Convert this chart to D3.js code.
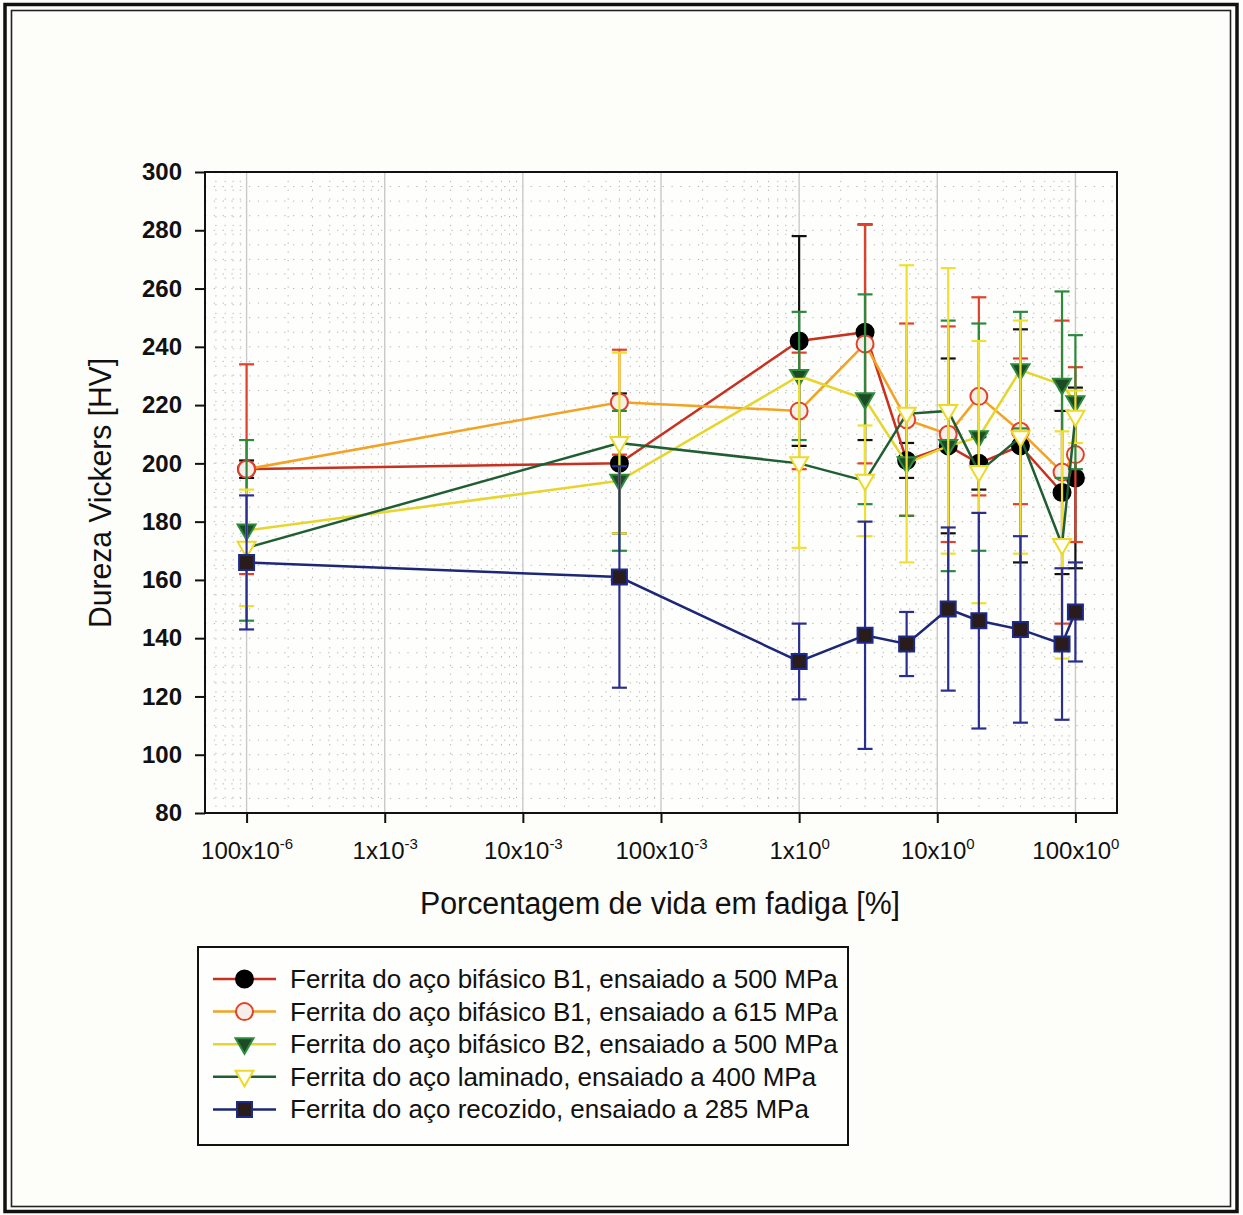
<!DOCTYPE html>
<html><head><meta charset="utf-8">
<script src="https://cdn.jsdelivr.net/npm/d3@7"></script>
<style>
html,body{margin:0;padding:0;background:#fdfdfa;}
svg{display:block;font-family:"Liberation Sans",Arial,sans-serif;}
</style></head>
<body>
<svg id="chart" width="1243" height="1215"></svg>
<script>
// ---- data ----
const xPct = [1e-4, 0.05, 1, 3, 6, 12, 20, 40, 80, 100];
const s1 = [198, 200, 242, 245, 201, 206, 200, 206, 190, 195];
const e1 = [3, 24, 36, 37, 6, 30, 9, 40, 28, 31];
const s2 = [198, 221, 218, 241, 215, 210, 223, 211, 197, 203];
const e2 = [36, 18, 20, 41, 33, 37, 34, 25, 52, 30];
const s3 = [177, 194, 230, 222, 200, 206, 209, 232, 227, 221];
const e3 = [31, 24, 22, 36, 18, 43, 39, 20, 32, 23];
const s4 = [171, 207, 200, 194, 217, 218, 197, 209, 172, 216];
const e4 = [20, 31, 29, 19, 51, 49, 45, 40, 39, 9];
const s5 = [166, 161, 132, 141, 138, 150, 146, 143, 138, 149];
const e5 = [23, 38, 13, 39, 11, 28, 37, 32, 26, 17];
const seriesNames = [
  "Ferrita do aço bifásico B1, ensaiado a 500 MPa",
  "Ferrita do aço bifásico B1, ensaiado a 615 MPa",
  "Ferrita do aço bifásico B2, ensaiado a 500 MPa",
  "Ferrita do aço laminado, ensaiado a 400 MPa",
  "Ferrita do aço recozido, ensaiado a 285 MPa"
];
const xTickValues = [1e-4, 1e-3, 1e-2, 1e-1, 1, 10, 100];
const xTickBase = ["100x10", "1x10", "10x10", "100x10", "1x10", "10x10", "100x10"];
const xTickExp = ["-6", "-3", "-3", "-3", "0", "0", "0"];
const yTickValues = [80, 100, 120, 140, 160, 180, 200, 220, 240, 260, 280, 300];
const xTitle = "Porcentagem de vida em fadiga [%]";
const yTitle = "Dureza Vickers [HV]";

// ---- styles ----
const styles = [
  {line:"#c8301f", err:"#111111", shape:"circle", fill:"#000000", stroke:"#000000"},
  {line:"#f2a224", err:"#e0412a", shape:"circle", fill:"#f6eee8", stroke:"#e0412a"},
  {line:"#e6d52c", err:"#2c8a3c", shape:"tri", fill:"#1f4a26", stroke:"#2c8a3c"},
  {line:"#1f5e33", err:"#efe030", shape:"tri", fill:"#fffff4", stroke:"#ecd92a"},
  {line:"#1d2777", err:"#2a2f8f", shape:"square", fill:"#2a1c1c", stroke:"#1c2a8c"}
];
const vals = [s1, s2, s3, s4, s5];
const errs = [e1, e2, e3, e4, e5];

const svg = d3.select("#chart");
const L = 205, R = 1117, T = 172, B = 813;
const x = d3.scaleLog().domain([5e-5, 200]).range([L, R]);
const y = d3.scaleLinear().domain([80, 300]).range([B, T]);

// outer double frame
svg.append("rect").attr("x", 5).attr("y", 4.5).attr("width", 1232).attr("height", 1207)
  .attr("fill", "#fdfdfa").attr("stroke", "#111").attr("stroke-width", 3.5);
svg.append("rect").attr("x", 11.5).attr("y", 10.5).attr("width", 1219).attr("height", 1196)
  .attr("fill", "none").attr("stroke", "#222").attr("stroke-width", 1.6);

// plot background
svg.append("rect").attr("x", L).attr("y", T).attr("width", R - L).attr("height", B - T).attr("fill", "#fefefc");

// minor dotted grid
const grid = svg.append("g");
const minorX = [];
for (let d = -5; d <= 2; d++) for (let k = 1; k <= 9; k++) {
  const v = k * Math.pow(10, d);
  if (v > 5e-5 * 1.0001 && v < 200 * 0.9999 && k !== 1) minorX.push(v);
}
grid.selectAll("line.mx").data(minorX).join("line")
  .attr("x1", d => x(d)).attr("x2", d => x(d)).attr("y1", T).attr("y2", B)
  .attr("stroke", "#b5b5b5").attr("stroke-width", 1).attr("stroke-dasharray", "1.3,7.5");
const minorY = d3.range(85, 300, 5);
grid.selectAll("line.my").data(minorY).join("line")
  .attr("y1", d => y(d)).attr("y2", d => y(d)).attr("x1", L).attr("x2", R)
  .attr("stroke", "#b5b5b5").attr("stroke-width", 1).attr("stroke-dasharray", "1.3,7.5");
// major decade gridlines
grid.selectAll("line.major").data(xTickValues).join("line")
  .attr("x1", d => x(d)).attr("x2", d => x(d)).attr("y1", T).attr("y2", B)
  .attr("stroke", "#c9c9c9").attr("stroke-width", 1.4);

// series
function markerPath(shape, cx, cy) {
  if (shape === "circle") {
    const r = 8.5;
    return `M${cx - r},${cy}a${r},${r} 0 1,0 ${2 * r},0a${r},${r} 0 1,0 ${-2 * r},0Z`;
  } else if (shape === "tri") {
    const h = 9;
    return `M${cx - h},${cy - 6}L${cx + h},${cy - 6}L${cx},${cy + 9.5}Z`;
  } else {
    const s = 7.5;
    return `M${cx - s},${cy - s}h${2 * s}v${2 * s}h${-2 * s}Z`;
  }
}
const lineGen = d3.line().x(d => x(d.x)).y(d => y(d.v));
vals.forEach((arr, si) => {
  const st = styles[si];
  const pts = xPct.map((xv, i) => ({x: xv, v: arr[i], e: errs[si][i]}));
  const g = svg.append("g");
  const eb = g.append("g").attr("stroke", st.err).attr("stroke-width", 2.2);
  pts.forEach(p => {
    const cx = x(p.x);
    eb.append("line").attr("x1", cx).attr("x2", cx).attr("y1", y(p.v - p.e)).attr("y2", y(p.v + p.e));
    eb.append("line").attr("x1", cx - 7.5).attr("x2", cx + 7.5).attr("y1", y(p.v + p.e)).attr("y2", y(p.v + p.e));
    eb.append("line").attr("x1", cx - 7.5).attr("x2", cx + 7.5).attr("y1", y(p.v - p.e)).attr("y2", y(p.v - p.e));
  });
  g.append("path").datum(pts).attr("d", lineGen).attr("fill", "none")
    .attr("stroke", st.line).attr("stroke-width", 2.5);
  g.selectAll("path.mk").data(pts).join("path").attr("class", "mk")
    .attr("d", p => markerPath(st.shape, x(p.x), y(p.v)))
    .attr("fill", st.fill).attr("stroke", st.stroke).attr("stroke-width", 2);
});

// plot frame
svg.append("rect").attr("x", L).attr("y", T).attr("width", R - L).attr("height", B - T)
  .attr("fill", "none").attr("stroke", "#111").attr("stroke-width", 2);

// axes
const yAxis = svg.append("g").attr("transform", `translate(${L},0)`)
  .call(d3.axisLeft(y).tickValues(yTickValues).tickSize(10).tickSizeOuter(0).tickPadding(13));
yAxis.select(".domain").remove();
yAxis.selectAll("line").attr("stroke", "#111").attr("stroke-width", 2);
yAxis.selectAll("text").attr("font-size", 24).attr("font-weight", "bold").attr("fill", "#111")
  .attr("font-family", "'Liberation Sans', Arial, sans-serif");

const xAxis = svg.append("g").attr("transform", `translate(0,${B})`)
  .call(d3.axisBottom(x).tickValues(xTickValues).tickSize(10).tickSizeOuter(0).tickFormat(""));
xAxis.select(".domain").remove();
xAxis.selectAll("line").attr("stroke", "#111").attr("stroke-width", 2);
xAxis.selectAll(".tick").each(function(d, i) {
  const t = d3.select(this).append("text").attr("y", 46).attr("text-anchor", "middle")
    .attr("fill", "#111").attr("font-size", 24).attr("font-family", "'Liberation Sans', Arial, sans-serif");
  t.append("tspan").text(xTickBase[i]);
  t.append("tspan").attr("font-size", 15).attr("dy", -10).text(xTickExp[i]);
});

// axis titles
svg.append("text").attr("x", 660).attr("y", 914).attr("text-anchor", "middle")
  .attr("font-size", 31).attr("fill", "#111").attr("textLength", 480).attr("lengthAdjust", "spacingAndGlyphs")
  .text(xTitle);
svg.append("text").attr("transform", "translate(111,493) rotate(-90)").attr("text-anchor", "middle")
  .attr("font-size", 31).attr("fill", "#111").attr("textLength", 270).attr("lengthAdjust", "spacingAndGlyphs")
  .text(yTitle);

// legend
const lg = svg.append("g");
lg.append("rect").attr("x", 198).attr("y", 947).attr("width", 650).attr("height", 198)
  .attr("fill", "#fefefc").attr("stroke", "#111").attr("stroke-width", 2);
seriesNames.forEach((name, i) => {
  const st = styles[i];
  const cy = 979 + i * 32.6;
  lg.append("line").attr("x1", 213).attr("x2", 276).attr("y1", cy).attr("y2", cy)
    .attr("stroke", st.line).attr("stroke-width", 2.5);
  lg.append("path").attr("d", markerPath(st.shape, 244.5, cy))
    .attr("fill", st.fill).attr("stroke", st.stroke).attr("stroke-width", 2);
  lg.append("text").attr("x", 290).attr("y", cy + 9).attr("font-size", 26).attr("fill", "#111").text(name);
});
</script>
</body></html>
